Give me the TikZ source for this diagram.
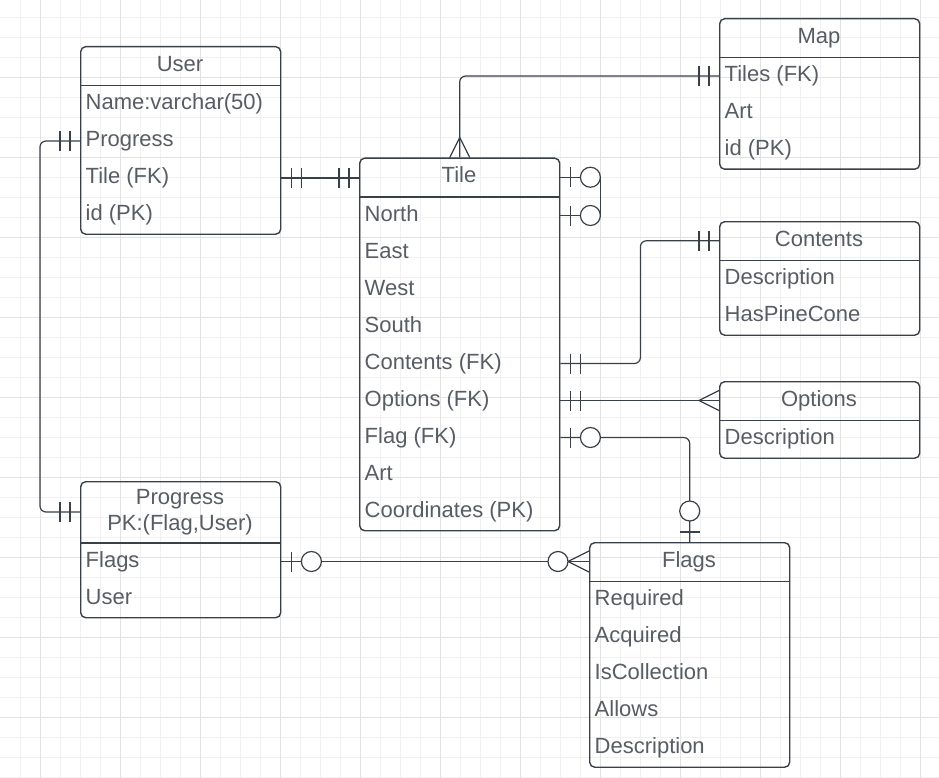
\documentclass[tikz,border=0pt]{standalone}
\usepackage{fontspec}
\setmainfont{Liberation Sans}
\usetikzlibrary{calc}

\definecolor{erline}{RGB}{58,64,72}
\definecolor{ertext}{RGB}{88,93,100}
\definecolor{gridmin}{RGB}{241,241,241}
\definecolor{gridmaj}{RGB}{226,226,226}

\tikzset{
	erbox/.style={draw=erline, line width=1.4pt, rounded corners=5pt, inner sep=0pt, minimum width=200pt, anchor=north west},
	ertitle/.style={text=ertext, font=\fontsize{22}{25.5}\selectfont, align=center, inner sep=0pt, text height=15pt, text depth=4pt},
	errow/.style={text=ertext, font=\fontsize{22}{25.5}\selectfont, anchor=west, inner sep=0pt, text height=15pt, text depth=4pt},
	conn/.style={draw=erline, line width=1.2pt}
}

\newcommand{\entity}[8][]{
	\pgfmathsetmacro{\ENht}{#5+37*#6}
	\pgfmathsetmacro{\ENhd}{#4+#5}
	\node[erbox, minimum height=\ENht pt] (#2) at (#3,#4) {};
	\node[ertitle, #1] (#2-t) at ({#3+100},{#4+#5/2}) {#7};
	\draw[erline, line width=1.4pt] (#3,\ENhd) -- ({#3+200},\ENhd);
	\foreach \rw [count=\ri] in {#8}
		\node[errow] (#2-\ri) at ({#3+5.5},{\ENhd+37*\ri-18.5}) {\rw};
}
\newcommand{\vtick}[2]{\draw[conn] ($(#1)+(#2,-10)$) -- ($(#1)+(#2,10)$);}
\newcommand{\htick}[2]{\draw[conn] ($(#1)+(-10,#2)$) -- ($(#1)+(10,#2)$);}
\newcommand{\oring}[3]{\draw[conn, fill=white] ($(#1)+(#2,#3)$) circle[radius=10];}

\begin{document}
\begin{tikzpicture}[x=1pt, y=-1pt]
\useasboundingbox (0,0) rectangle (939,778);
\fill[white] (0,0) rectangle (939,778);

% grid
\foreach \gx in {20,40,...,920}
	\draw[gridmin, line width=0.8pt] (\gx,0) -- (\gx,778);
\foreach \gy in {17,37,...,777}
	\draw[gridmin, line width=0.8pt] (0,\gy) -- (939,\gy);
\foreach \gx in {40,120,...,920}
	\draw[gridmaj, line width=0.9pt] (\gx,0) -- (\gx,778);
\foreach \gy in {77,157,...,717}
	\draw[gridmaj, line width=0.9pt] (0,\gy) -- (939,\gy);

\entity{user}{80}{46}{39.5}{4}{User}{Name:varchar(50),Progress,Tile (FK),id (PK)}
\entity{tile}{359}{157.5}{39.5}{9}{Tile}{North,East,West,South,Contents (FK),Options (FK),Flag (FK),Art,Coordinates (PK)}
\entity{map}{719}{18}{39.5}{3}{Map}{Tiles (FK),Art,id (PK)}
\entity{contents}{719}{221}{39.5}{2}{Contents}{Description,HasPineCone}
\entity{options}{719}{381}{39.5}{1}{Options}{Description}
\entity[text height=40pt]{progress}{80}{481}{62}{2}{Progress\\PK:(Flag,User)}{Flags,User}
\entity{flags}{589}{542}{39.5}{5}{Flags}{Required,Acquired,IsCollection,Allows,Description}

% user - tile
\coordinate (ua) at (user.east |- user-3);
\coordinate (ta) at (tile.west |- user-3);
\draw[conn] (ua) -- (ta);
\vtick{ua}{10} \vtick{ua}{20}
\vtick{ta}{-10} \vtick{ta}{-20}

% user - progress
\coordinate (ub) at (user.west |- user-2);
\coordinate (pb) at (progress.west |- progress-t);
\draw[conn, rounded corners=6] (ub) -- ++(-40,0) |- (pb);
\vtick{ub}{-10} \vtick{ub}{-20}
\vtick{pb}{-10} \vtick{pb}{-20}

% tile - map
\coordinate (mc) at (map.west |- map-1);
\draw[conn, rounded corners=6] (tile.north) |- (mc);
\vtick{mc}{-10} \vtick{mc}{-20}
\draw[conn] ($(tile.north)+(-10,0)$) -- ($(tile.north)+(0,-20)$) -- ($(tile.north)+(10,0)$);

% tile - tile
\coordinate (td) at (tile.east |- tile-t);
\coordinate (te) at (tile.east |- tile-1);
\draw[conn] (td) -- ++(40,0) |- (te);
\vtick{td}{10} \oring{td}{30}{0}
\vtick{te}{10} \oring{te}{30}{0}

% tile - contents
\coordinate (tf) at (tile.east |- tile-5);
\coordinate (cf) at (contents.west |- contents-t);
\draw[conn, rounded corners=6] (tf) -- ++(80,0) |- (cf);
\vtick{tf}{10} \vtick{tf}{20}
\vtick{cf}{-10} \vtick{cf}{-20}

% tile - options
\coordinate (tg) at (tile.east |- tile-6);
\coordinate (og) at (options.west |- tile-6);
\draw[conn] (tg) -- (og);
\vtick{tg}{10} \vtick{tg}{20}
\draw[conn] ($(og)+(0,-10)$) -- ($(og)+(-20,0)$) -- ($(og)+(0,10)$);

% tile - flags
\coordinate (th) at (tile.east |- tile-7);
\draw[conn, rounded corners=6] (th) -| (flags.north);
\vtick{th}{10} \oring{th}{30}{0}
\htick{flags.north}{-10} \oring{flags.north}{0}{-31}

% progress - flags
\coordinate (pk) at (progress.east |- progress-1);
\coordinate (fk) at (flags.west |- progress-1);
\draw[conn] (pk) -- (fk);
\vtick{pk}{10} \oring{pk}{30}{0}
\draw[conn] ($(fk)+(0,-10.5)$) -- ($(fk)+(-21,0)$) -- ($(fk)+(0,10.5)$);
\oring{fk}{-31}{0}
\end{tikzpicture}
\end{document}
